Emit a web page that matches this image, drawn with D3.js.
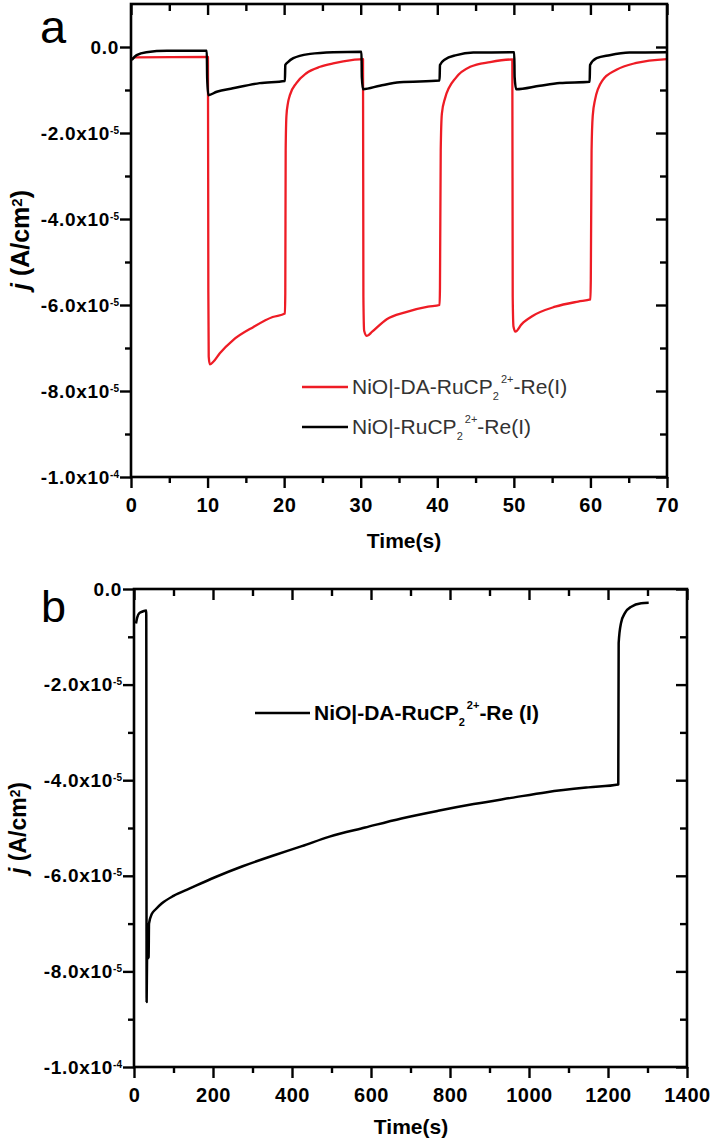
<!DOCTYPE html>
<html>
<head>
<meta charset="utf-8">
<script src="https://cdn.jsdelivr.net/npm/d3@7"></script>
<style>
body{margin:0;background:#fff;}
svg{display:block;font-family:"Liberation Sans",Arial,Helvetica,sans-serif;}
</style>
</head>
<body>
<svg id="chart" width="715" height="1143"></svg>
<script>
// current density j in units of 1e-5 A/cm2, time in s

// panel a: chopped light, two electrodes
var redA = [[0,-0.3],[0.5,-0.24],[10.05,-0.23],[10.1,-5.7],[10.15,-7.2],[10.3,-7.38],[10.75,-7.32],[11.6,-7.12],
	[13.3,-6.82],[16,-6.51],[18.5,-6.28],[20.1,-6.2],[20.15,-5.72],[20.2,-2.4],[20.3,-1.6],[20.5,-1.3],[20.75,-1.12],
	[21.6,-0.84],[22.9,-0.61],[24.7,-0.46],[26.4,-0.38],[29,-0.3],[30.3,-0.28],[30.35,-5.8],[30.45,-6.6],
	[30.8,-6.72],[31.5,-6.62],[33.4,-6.33],[35.8,-6.17],[38.8,-6.04],[40.3,-6.0],[40.35,-5.6],[40.45,-2.4],
	[40.6,-1.55],[41,-1.2],[42.5,-0.7],[44.3,-0.46],[46.9,-0.35],[49.8,-0.29],[49.85,-5.8],[49.95,-6.5],[50.2,-6.62],
	[51,-6.45],[52.5,-6.25],[55.4,-6.04],[58.4,-5.92],[60,-5.87],[60.05,-5.4],[60.15,-2.4],[60.3,-1.6],[60.6,-1.23],
	[61.6,-0.77],[63.4,-0.53],[66,-0.37],[70,-0.28]]
var blackA = [[0.1,-0.3],[0.74,-0.19],[2,-0.12],[4.7,-0.09],[9.9,-0.09],[9.95,-0.72],[10.1,-1.12],[11.2,-1.04],
	[13.3,-0.96],[16.8,-0.84],[20.1,-0.79],[20.15,-0.42],[20.5,-0.35],[21.2,-0.26],[23.4,-0.16],[26.4,-0.12],
	[30.1,-0.11],[30.15,-0.7],[30.3,-0.98],[32.5,-0.9],[35.1,-0.82],[40.3,-0.78],[40.35,-0.42],[41,-0.29],
	[42.5,-0.19],[44.7,-0.13],[50.05,-0.12],[50.1,-0.7],[50.3,-0.98],[53.4,-0.9],[56,-0.84],[59.9,-0.81],
	[59.95,-0.42],[60.8,-0.26],[62.5,-0.19],[65.1,-0.13],[70,-0.12]]

// panel b: long illumination
var blackB = [[5,-0.72],[8,-0.6],[14,-0.5],[22,-0.47],[31,-0.45],[32,-8.64],[33,-7.75],[37,-7.7],[38,-7.0],
	[45,-6.8],[55,-6.7],[70,-6.58],[100,-6.42],[140,-6.27],[205,-6.03],[275,-5.8],[355,-5.57],[425,-5.38],
	[495,-5.18],[585,-4.99],[677,-4.8],[770,-4.64],[860,-4.5],[955,-4.37],[1045,-4.25],[1150,-4.15],
	[1226,-4.09],[1227,-1.13],[1233,-0.71],[1243,-0.5],[1259,-0.37],[1284,-0.3],[1303,-0.29]]

var yMajor = [0,-2,-4,-6,-8,-10]
var yMinor = [-1,-3,-5,-7,-9]
var xMajorA = [0,10,20,30,40,50,60,70]
var xMinorA = [5,15,25,35,45,55,65]
var xMajorB = [0,200,400,600,800,1000,1200,1400]
var xMinorB = [100,300,500,700,900,1100,1300]

var legendA = [
	{pre:"NiO|-DA-RuCP", post:"-Re(I)", color:"#ee1c25"},
	{pre:"NiO|-RuCP", post:"-Re(I)", color:"#000"}
]
var legendB = [{pre:"NiO|-DA-RuCP", post:"-Re (I)", color:"#000"}]

var svg = d3.select("#chart")

function sci(v){
	if (v === 0) return {m:"0.0", e:null}
	var val = v * 1e-5
	var e = Math.floor(Math.log10(Math.abs(val)) + 1e-9)
	var m = val / Math.pow(10, e)
	return {m: m.toFixed(1) + "x10", e: String(e)}
}

function tickSet(g, axisFn, values, size, tr){
	var a = g.append("g").attr("transform", tr)
		.call(axisFn.tickValues(values).tickSize(size).tickFormat(""))
	a.select(".domain").remove()
	a.selectAll("line").attr("stroke","#000").attr("stroke-width",2.4)
	return a
}

function panel(o){
	var x = d3.scaleLinear().domain(o.xDomain).range([o.left, o.right])
	var y = d3.scaleLinear().domain(o.yDomain).range([o.bottom, o.top])
	var g = svg.append("g")

	// data first, frame on top
	var line = d3.line().curve(d3.curveMonotoneX).x(d => x(d[0])).y(d => y(d[1]))
	o.series.forEach(function(s){
		g.append("path").attr("d", line(s.data))
			.attr("fill","none").attr("stroke", s.color)
			.attr("stroke-width", s.width).attr("stroke-linejoin","round")
	})

	g.append("rect").attr("x", o.left).attr("y", o.top)
		.attr("width", o.right - o.left).attr("height", o.bottom - o.top)
		.attr("fill","none").attr("stroke","#000").attr("stroke-width",2.6)

	// bottom, labelled, outward
	var bx = tickSet(g, d3.axisBottom(x), o.xMajor, 11, "translate(0," + o.bottom + ")")
	bx.selectAll(".tick text").text(d => d)
		.attr("y", 21).attr("fill","#000")
		.attr("font-size","20px").attr("font-weight","bold").attr("letter-spacing","0.5px")
	tickSet(g, d3.axisBottom(x), o.xMinor, 6, "translate(0," + o.bottom + ")")
	// top, inward
	tickSet(g, d3.axisTop(x), o.xMajor, -11, "translate(0," + o.top + ")")
	tickSet(g, d3.axisTop(x), o.xMinor, -7, "translate(0," + o.top + ")")

	// left, labelled, outward
	var ly = tickSet(g, d3.axisLeft(y), yMajor.filter(v => v >= o.yDomain[0] && v <= o.yDomain[1]), 11, "translate(" + o.left + ",0)")
	ly.selectAll(".tick text").each(function(d){
		var t = d3.select(this).text(null).attr("x", -12).attr("fill","#000")
			.attr("font-size","19px").attr("font-weight","bold").attr("letter-spacing","0.7px")
		var f = sci(d)
		t.append("tspan").text(f.m)
		if (f.e !== null) t.append("tspan").attr("dy","-0.6em").attr("font-size","10px").attr("letter-spacing","0").text(f.e)
	})
	tickSet(g, d3.axisLeft(y), yMinor, 6, "translate(" + o.left + ",0)")
	// right, inward
	tickSet(g, d3.axisRight(y), yMajor, -11, "translate(" + o.right + ",0)")
	tickSet(g, d3.axisRight(y), yMinor, -7, "translate(" + o.right + ",0)")

	// axis titles
	g.append("text").attr("x", o.xTitle[0]).attr("y", o.xTitle[1])
		.attr("text-anchor","middle").attr("font-size","21px").attr("font-weight","bold")
		.text("Time(s)")
	var yt = g.append("text").attr("transform","translate(" + o.yTitle[0] + "," + o.yTitle[1] + ") rotate(-90)")
		.attr("text-anchor","middle").attr("font-size", o.yTitleSize).attr("font-weight","bold")
	yt.append("tspan").attr("font-style","italic").text("j")
	yt.append("tspan").text(" (A/cm")
	yt.append("tspan").attr("dy","-0.45em").attr("font-size","0.6em").text("2")
	yt.append("tspan").attr("dy","0.27em").text(")")

	// panel letter
	g.append("text").attr("x", o.letter[0]).attr("y", o.letter[1])
		.attr("font-size", o.letterSize).text(o.name)

	// legend
	var lg = g.selectAll(".leg").data(o.legend).join("g")
		.attr("transform", (d, i) => "translate(" + o.legPos[0] + "," + (o.legPos[1] + i * o.legStep) + ")")
	lg.append("line").attr("x1",0).attr("x2",o.legLen).attr("y1",0).attr("y2",0)
		.attr("stroke", d => d.color).attr("stroke-width",2.6)
	var lt = lg.append("text").attr("x", o.legLen + 4).attr("y", 7)
		.attr("font-size","21px").attr("font-weight", o.legWeight).attr("fill", o.legFill)
	lt.append("tspan").text(d => d.pre)
	lt.append("tspan").attr("dy",6).attr("font-size","11px").text("2")
	lt.append("tspan").attr("dy",-17).attr("dx",2).attr("font-size","11px").text("2+")
	lt.append("tspan").attr("dy",11).text(d => d.post)
}

panel({
	name:"a", left:131, right:667, top:4, bottom:477,
	xDomain:[0,70], yDomain:[-10,1], xMajor:xMajorA, xMinor:xMinorA,
	series:[{data:redA, color:"#ee1c25", width:2.3},{data:blackA, color:"#000", width:2.5}],
	xTitle:[404,548], yTitle:[29,240], yTitleSize:"25px", letter:[40,43], letterSize:"47px",
	legend:legendA, legPos:[302,387], legStep:40, legLen:46, legWeight:"normal", legFill:"#333"
})

panel({
	name:"b", left:134, right:687, top:589, bottom:1067,
	xDomain:[0,1400], yDomain:[-10,0], xMajor:xMajorB, xMinor:xMinorB,
	series:[{data:blackB, color:"#000", width:2.5}],
	xTitle:[411,1134], yTitle:[26,828], yTitleSize:"23px", letter:[41,622], letterSize:"45px",
	legend:legendB, legPos:[255,713], legStep:40, legLen:55, legWeight:"bold", legFill:"#000"
})
</script>
</body>
</html>
